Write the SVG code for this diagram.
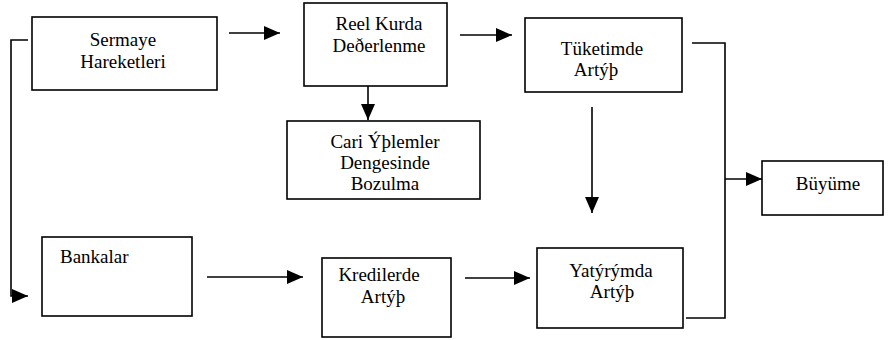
<svg xmlns="http://www.w3.org/2000/svg" width="889" height="340" viewBox="0 0 889 340">
<defs>
<marker id="ah" markerWidth="16" markerHeight="14" refX="16" refY="7" orient="auto" markerUnits="userSpaceOnUse">
<path d="M0,0 L16,7 L0,14 Z" fill="#000"/>
</marker>
<style>
rect{fill:#fff;stroke:#000;stroke-width:1.6}
text{font-family:"Times New Roman","Liberation Serif",Tinos,"DejaVu Serif",serif;font-size:19px;fill:#000}
.c{text-anchor:middle}
#connectors path{fill:none;stroke:#000;stroke-width:1.6}
</style>
</defs>
<rect x="0" y="0" width="889" height="340" fill="#fff" style="stroke:none"/>
<g id="connectors">
<path d="M229,33 H280" marker-end="url(#ah)"/>
<path d="M460,35 H512" marker-end="url(#ah)"/>
<path d="M368,86 V120" marker-end="url(#ah)"/>
<path d="M592,107 V213" marker-end="url(#ah)"/>
<path d="M28,40 H11 V296 H28" marker-end="url(#ah)"/>
<path d="M207,277 H303" marker-end="url(#ah)"/>
<path d="M465,278 H530" marker-end="url(#ah)"/>
<path d="M692,43 H725 V318 H686"/>
<path d="M725,179 H762" marker-end="url(#ah)"/>
</g>
<g id="sermaye">
<rect x="32" y="17" width="185" height="73"/>
<text class="c" x="123" y="46">Sermaye</text>
<text class="c" x="123" y="68">Hareketleri</text>
</g>
<g id="reel">
<rect x="304" y="3" width="143" height="83"/>
<text class="c" x="379" y="30">Reel Kurda</text>
<text class="c" x="379" y="52">Deðerlenme</text>
</g>
<g id="tuketim">
<rect x="525" y="18" width="157" height="74"/>
<text class="c" x="602" y="55">Tüketimde</text>
<text class="c" x="596" y="76">Artýþ</text>
</g>
<g id="cari">
<rect x="287" y="121" width="193" height="78"/>
<text class="c" x="385" y="148">Cari Ýþlemler</text>
<text class="c" x="385" y="169">Dengesinde</text>
<text class="c" x="385" y="190">Bozulma</text>
</g>
<g id="buyume">
<rect x="762" y="161" width="121" height="54"/>
<text class="c" x="828" y="190">Büyüme</text>
</g>
<g id="bankalar">
<rect x="42" y="237" width="150" height="79"/>
<text x="60" y="263">Bankalar</text>
</g>
<g id="krediler">
<rect x="322" y="258" width="129" height="79"/>
<text class="c" x="379" y="281">Kredilerde</text>
<text class="c" x="383" y="303">Artýþ</text>
</g>
<g id="yatirim">
<rect x="537" y="248" width="146" height="80"/>
<text class="c" x="611" y="277">Yatýrýmda</text>
<text class="c" x="612" y="298">Artýþ</text>
</g>
</svg>
